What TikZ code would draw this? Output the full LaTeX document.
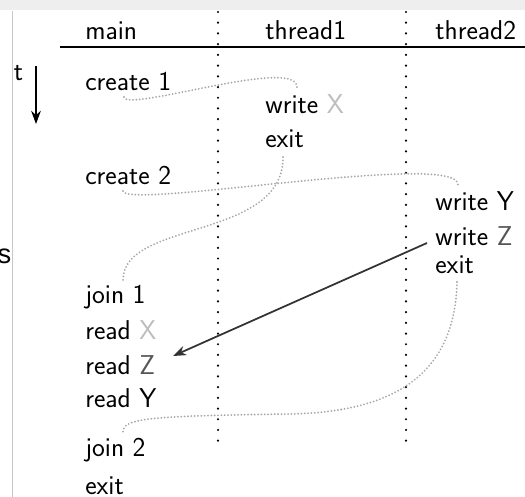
\documentclass[tikz,border=0pt]{standalone}
\usepackage{fontspec}
\newfontfamily\arialfont{Liberation Sans}
\usetikzlibrary{arrows.meta,calc}
\definecolor{bandgray}{HTML}{EEEEEE}
\definecolor{framegray}{HTML}{C8C8C8}
\definecolor{varX}{HTML}{BDBDBD}
\definecolor{varZ}{HTML}{555555}
\definecolor{flowgray}{HTML}{A8A8A8}
\definecolor{depgray}{HTML}{333333}
\tikzset{
  lbl/.style={inner sep=0pt, anchor=base west, font=\sffamily\fontsize{15.5}{18}\selectfont},
  lane/.style={line width=1.4pt, line cap=round, dash pattern=on 0pt off 6.1pt},
  flow/.style={flowgray, line width=1.15pt, line cap=round, dash pattern=on 0pt off 1.9pt},
  dep/.style={depgray, line width=1pt, -{Stealth[length=7.5pt,width=5.5pt]}},
}
\begin{document}
\begin{tikzpicture}[x=0.02cm, y=-0.02cm]
\useasboundingbox (0,0) rectangle (525,497);
% window chrome around the figure
\fill[bandgray] (0,0) rectangle (525,10.5);
\draw[framegray, line width=0.5pt] (12.5,11) -- (12.5,497);
\node[inner sep=0pt, anchor=base east, font=\arialfont\fontsize{15.5}{18}\selectfont] (cut) at (11.5,263) {s};

% time axis
\node[lbl] (tlabel) at (13.5,80) {t};
\coordinate (ttop) at (36,66);
\coordinate (tbot) at (36,124);
\draw[line width=1pt, -{Stealth[length=7.5pt,width=5.5pt]}] (ttop) -- (tbot);

% column headers and rules
\node[lbl] (hmain) at (85,39) {main};
\node[lbl] (hone) at (265,39) {thread1};
\node[lbl] (htwo) at (435,39) {thread2};
\draw[line width=1.1pt] (60,47) -- (525,47);
\draw[lane] (218,12) -- (218,444);
\draw[lane] (406,12) -- (406,444);

% main
\node[lbl] (c1) at (85,91) {create 1};
\node[lbl] (c2) at (85,184) {create 2};
\node[lbl] (j1) at (85,303) {join 1};
\node[lbl] (rX) at (85,339) {read \textcolor{varX}{X}};
\node[lbl] (rZ) at (85,374) {read \textcolor{varZ}{Z}};
\node[lbl] (rY) at (85,407) {read Y};
\node[lbl] (j2) at (85,456) {join 2};
\node[lbl] (mx) at (85,494) {exit};

% thread1
\node[lbl] (wX) at (265,113) {write \textcolor{varX}{X}};
\node[lbl] (t1x) at (265,148) {exit};

% thread2
\node[lbl] (wY) at (435,211) {write Y};
\node[lbl] (wZ) at (435,245) {write \textcolor{varZ}{Z}};
\node[lbl] (t2x) at (435,274) {exit};

% control flow between threads
\draw[flow] ($(c1.base west)+(39,6)$) .. controls +(2,16) and +(3,-33) .. ($(wX.base west)+(32,-25)$);
\draw[flow] ($(t1x.base west)+(18,9)$) .. controls +(1,83) and +(0,-60) .. ($(j1.base west)+(38,-23)$);
\draw[flow] ($(c2.base west)+(38,7)$) .. controls +(2,19) and +(2,-35) .. ($(wY.base west)+(23,-26)$);
\coordinate (m4) at (290,414);
\draw[flow] ($(t2x.base west)+(22,8)$) .. controls +(-2,88) and +(110,-2) .. (m4)
  .. controls +(-140,2) and +(0,-14) .. ($(j2.base west)+(38,-24)$);

% data dependency
\draw[dep] ($(wZ.base west)+(-8,-2)$) -- ($(rZ.base west)+(88,-18)$);
\end{tikzpicture}
\end{document}
